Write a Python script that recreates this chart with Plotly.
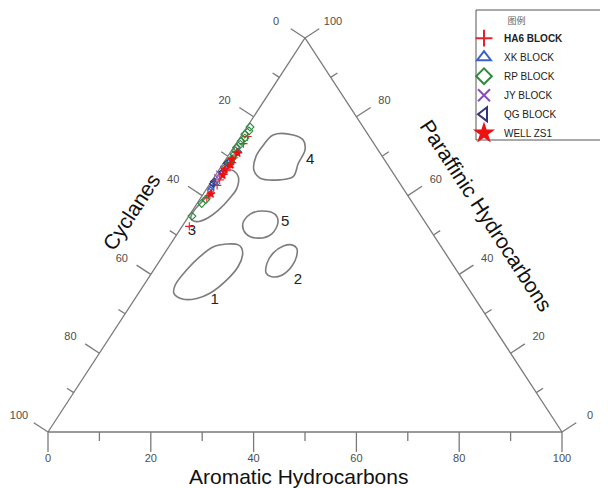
import math
import plotly.graph_objects as go

# ---------------- data (ternary %, Cyclanes = 100 - Aromatic - Paraffinic) ----------------
ha6_aro = [1.3, 1.4, 1.2, 1.4, 1.6, 1.8, 1.3, 1.5, 1.4, 1.6, 1.3, 1.2, 1.4]
ha6_par = [75.0, 73.2, 71.0, 69.6, 68.4, 67.2, 66.3, 65.4, 64.0, 62.6, 60.0, 59.4, 52.2]

xk_aro = [1.5, 0.9, 1.1, 0.7, 0.9]
xk_par = [71.2, 68.6, 63.0, 62.0, 61.5]

rp_aro = [0.6, 0.9, 0.5, 1.0, 0.7, 0.9, 0.6, 0.8, 1.0, 1.1, 0.8, 1.0, 1.2, 0.9, 0.6]
rp_par = [77.4, 76.4, 75.6, 74.6, 73.8, 73.0, 72.2, 71.4, 70.4, 69.4, 68.4, 67.4, 59.0, 58.0, 54.8]

jy_aro = [0.7, 0.5, 0.6]
jy_par = [66.8, 65.6, 64.6]

qg_aro = [0.6, 0.8, 0.4, 0.5]
qg_par = [68.2, 66.0, 63.6, 63.0]

zs1_aro = [1.5, 1.2, 1.6, 1.1, 1.4, 1.5]
zs1_par = [70.8, 69.2, 67.8, 66.6, 65.2, 60.4]

# region outlines (Aromatic, Paraffinic)
reg1_aro = [14.4, 13.3, 10.9, 8.7, 7.3, 6.4, 6.1, 6.9, 9.5, 12.0, 13.9, 15.5, 16.0, 15.4]
reg1_par = [46.6, 47.5, 47.7, 47.0, 44.5, 41.1, 37.3, 35.2, 33.7, 33.9, 35.2, 38.6, 42.0, 44.9]
reg2_aro = [25.1, 23.7, 22.2, 21.1, 21.2, 22.3, 23.8, 25.6, 26.4, 26.1]
reg2_par = [46.6, 47.5, 47.2, 45.4, 42.8, 40.3, 39.4, 39.8, 42.0, 44.5]
reg3_aro = [1.8, 3.1, 4.7, 5.8, 5.7, 5.0, 3.8, 2.2, 0.7, 0.3, 0.8, 1.3, 1.6]
reg3_par = [66.5, 66.2, 64.7, 61.9, 59.4, 56.3, 54.2, 53.4, 54.2, 55.9, 58.9, 63.1, 65.7]
reg4_aro = [6.1, 10.0, 12.6, 14.2, 14.6, 15.3, 13.1, 9.1, 6.8, 5.5, 5.5]
reg4_par = [75.4, 75.4, 74.1, 71.6, 68.2, 64.8, 64.0, 64.4, 66.5, 69.9, 72.8]
reg5_aro = [13.6, 16.5, 18.1, 18.4, 16.3, 13.4, 11.5, 11.7]
reg5_par = [56.1, 55.3, 53.3, 50.3, 49.2, 50.3, 52.8, 55.3]

region_names = ["1", "2", "3", "4", "5"]
region_label_aro = [15.7, 29.3, 2.5, 16.5, 19.5]
region_label_par = [33.5, 38.6, 51.0, 69.0, 53.3]

tick_values = [0, 10, 20, 30, 40, 50, 60, 70, 80, 90, 100]
label_values = [0, 20, 40, 60, 80, 100]

# ---------------- geometry ----------------
PAGE_OFF = 8                      # default page margin around the plot div
W, H = 608 - PAGE_OFF, 488 - PAGE_OFF
PX_X, PX_Y = 5.14, 3.94           # px per data unit
X0 = -(48 - PAGE_OFF) / PX_X
Y0 = -(H - (432 - PAGE_OFF)) / PX_Y
FONT = "Liberation Sans, Arial, sans-serif"
EDGE = "#7a7a7a"
TXT = "#4d4d4d"


def xy(aro, par):
    xs = [a + p / 2 for a, p in zip(aro, par)]
    ys = list(par)
    return xs, ys


def px(v):
    return (v - PAGE_OFF) / W


def py(v):
    return 1 - (v - PAGE_OFF) / H


# outward normals (pixel space, y down) of left / right edges
ex, ey = 257.0, -394.0
n = math.hypot(ex, ey)
LN = (ey / n, -ex / n)
RN = (-ey / n, -ex / n)


def pix_to_data(dx, dy):
    return dx / PX_X, -dy / PX_Y


fig = go.Figure()

# triangle
tx, ty = xy([0, 100, 0, 0], [0, 0, 100, 0])
fig.add_trace(go.Scatter(x=tx, y=ty, mode="lines", line=dict(color=EDGE, width=1.3),
                         hoverinfo="skip", showlegend=False))

# ticks
tkx, tky = [], []
lbl_x, lbl_y, lbl_t = [], [], []
for v in tick_values:
    major = v in label_values
    L = 20 if major else 9
    bx, by = xy([v], [0])
    dx, dy = pix_to_data(0, L)
    tkx += [bx[0], bx[0] + dx, None]
    tky += [by[0], by[0] + dy, None]
    L = 17 if major else 8
    lx, ly = xy([0], [100 - v])
    dx, dy = pix_to_data(LN[0] * L, LN[1] * L)
    tkx += [lx[0], lx[0] + dx, None]
    tky += [ly[0], ly[0] + dy, None]
    rx, ry = xy([100 - v], [v])
    dx, dy = pix_to_data(RN[0] * L, RN[1] * L)
    tkx += [rx[0], rx[0] + dx, None]
    tky += [ry[0], ry[0] + dy, None]
    if major:
        dx, dy = pix_to_data(0, 27)
        lbl_x.append(bx[0] + dx); lbl_y.append(by[0] + dy); lbl_t.append(str(v))
        dx, dy = pix_to_data(-29, -15.5)
        lbl_x.append(lx[0] + dx); lbl_y.append(ly[0] + dy); lbl_t.append(str(v))
        dx, dy = pix_to_data(28, -15.5)
        lbl_x.append(rx[0] + dx); lbl_y.append(ry[0] + dy); lbl_t.append(str(v))

fig.add_trace(go.Scatter(x=tkx, y=tky, mode="lines", line=dict(color=EDGE, width=1.3),
                         hoverinfo="skip", showlegend=False))
fig.add_trace(go.Scatter(x=lbl_x, y=lbl_y, mode="text", text=lbl_t,
                         textfont=dict(family=FONT, size=11, color=TXT),
                         hoverinfo="skip", showlegend=False))

# regions
for ra, rpv in [(reg1_aro, reg1_par), (reg2_aro, reg2_par), (reg3_aro, reg3_par),
                (reg4_aro, reg4_par), (reg5_aro, reg5_par)]:
    cx, cy = xy(ra + ra[:1], rpv + rpv[:1])
    fig.add_trace(go.Scatter(x=cx, y=cy, mode="lines",
                             line=dict(color="#7c7c7c", width=1.6, shape="spline", smoothing=1.0),
                             hoverinfo="skip", showlegend=False))
rlx, rly = xy(region_label_aro, region_label_par)
fig.add_trace(go.Scatter(x=rlx, y=rly, mode="text", text=region_names,
                         textfont=dict(family=FONT, size=15, color="#222222"),
                         hoverinfo="skip", showlegend=False))

# samples
series = [
    ("<b>HA6 BLOCK</b>", ha6_aro, ha6_par, "cross-thin-open", "#e8202a", 6),
    ("XK BLOCK", xk_aro, xk_par, "triangle-up-open", "#3a62c8", 6),
    ("RP BLOCK", rp_aro, rp_par, "diamond-open", "#2e8b3e", 6),
    ("JY BLOCK", jy_aro, jy_par, "x-thin-open", "#8a4cc0", 6),
    ("QG BLOCK", qg_aro, qg_par, "triangle-left-open", "#34347e", 6),
    ("WELL ZS1", zs1_aro, zs1_par, "star", "#ee1111", 6),
]
for name, a, p, sym, col, sz in series:
    sx, sy = xy(a, p)
    fig.add_trace(go.Scatter(
        x=sx, y=sy, mode="markers", name=name,
        marker=dict(symbol=sym, color=col, size=sz, line=dict(color=col, width=1.1)),
        customdata=[[ai, pi, 100 - ai - pi] for ai, pi in zip(a, p)],
        hovertemplate="Aromatic %{customdata[0]}<br>Paraffinic %{customdata[1]}<br>Cyclanes %{customdata[2]:.1f}<extra></extra>",
    ))

# axis titles
mx, my = xy([0], [50])
fig.add_annotation(x=mx[0], y=my[0], text="Cyclanes", showarrow=False, textangle=-56.9,
                   xshift=-46, yshift=23, font=dict(family=FONT, size=21, color="#111111"))
mx, my = xy([50], [50])
fig.add_annotation(x=mx[0], y=my[0], text="Paraffinic Hydrocarbons", showarrow=False, textangle=56.9,
                   xshift=53, yshift=20, font=dict(family=FONT, size=21, color="#111111"))
mx, my = xy([50], [0])
fig.add_annotation(x=mx[0], y=my[0], text="Aromatic Hydrocarbons", showarrow=False,
                   xshift=-7, yshift=-44, font=dict(family=FONT, size=21, color="#111111"))

# legend box
fig.add_shape(type="rect", xref="paper", yref="paper",
              x0=px(476), x1=px(604), y0=py(140), y1=py(10),
              line=dict(color="#555555", width=1), fillcolor="rgba(0,0,0,0)")

fig.update_layout(
    width=W, height=H,
    margin=dict(l=0, r=0, t=0, b=0),
    paper_bgcolor="white", plot_bgcolor="white",
    xaxis=dict(range=[X0, X0 + W / PX_X], visible=False, fixedrange=True),
    yaxis=dict(range=[Y0, Y0 + H / PX_Y], visible=False, fixedrange=True),
    showlegend=True,
    legend=dict(
        x=px(464), y=py(12), xanchor="left", yanchor="top",
        bgcolor="rgba(0,0,0,0)", borderwidth=0,
        itemsizing="constant",
        font=dict(family=FONT, size=10, color="#222222"),
        title=dict(text="图例", side="top center",
                   font=dict(family="Noto Sans CJK SC", size=9, color="#666666")),
        tracegroupgap=0,
    ),
)

fig.write_html("out.html")
